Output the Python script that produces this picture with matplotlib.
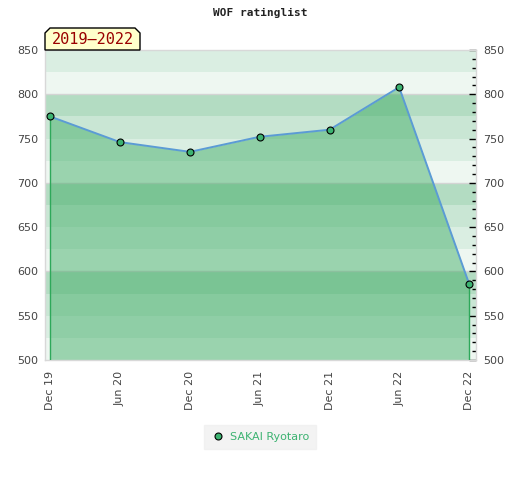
import matplotlib

matplotlib.use("Agg")
import matplotlib.dates as mdates
import matplotlib.pyplot as plt
import numpy as np
import pandas as pd
from matplotlib.patches import Polygon

TITLE = "WOF ratinglist"
PERIOD = "2019\u20132022"
PLAYER = "SAKAI Ryotaro"

dates = pd.to_datetime(["2019-12-01", "2020-06-01", "2020-12-01", "2021-06-01",
                        "2021-12-01", "2022-06-01", "2022-12-01"])
tick_labels = ["Dec 19", "Jun 20", "Dec 20", "Jun 21", "Dec 21", "Jun 22", "Dec 22"]
ratings = [775, 746, 735, 752, 760, 808, 586]

y_min, y_max = 500, 850
band_shades = ["#eef7f1", "#daeee2", "#c9e6d4", "#b3dcc2"]  # bottom -> top within each 100

fig = plt.figure(figsize=(5.2, 4.8), dpi=100)
ax = fig.add_axes([45 / 520, 1 - 360 / 480, 431 / 520, 310 / 480])

# background bands
for lo in range(y_min, y_max + 100, 25):
    ax.axhspan(lo, lo + 25, color=band_shades[(lo // 25) % 4], lw=0, zorder=0)
for y in range(y_min + 100, y_max, 100):
    ax.axhline(y, color="#d4d4d4", lw=1, zorder=1)

x = mdates.date2num(dates)
ax.fill_between(x, ratings, y_min, color="#37a95f", alpha=0.46, lw=0, zorder=2)
ax.vlines([x[0], x[-1]], y_min, [ratings[0], ratings[-1]], color="#2ea85a", lw=1, zorder=3)
ax.plot(x, ratings, color="#5b9bd5", lw=1.4, zorder=4)
ax.plot(x, ratings, "o", color="#3cb371", mec="black", mew=0.8, ms=5, zorder=5,
        label=PLAYER, clip_on=False)

ax.set_xlim(x[0] - 13, x[-1] + 18)
ax.set_ylim(y_min, y_max)
ax.set_xticks(x)
ax.set_xticklabels(tick_labels, rotation=90, fontsize=8, color="#444444")
ax.set_yticks(np.arange(y_min, y_max + 1, 50))
ax.tick_params(axis="y", which="both", left=False, right=True, labelleft=True,
               labelright=True, direction="in", labelsize=8, labelcolor="#444444",
               color="black", pad=5)
ax.tick_params(axis="y", which="major", length=5, width=1)
ax.set_yticks(np.arange(y_min, y_max + 1, 10), minor=True)
ax.tick_params(axis="y", which="minor", length=3, width=1)
ax.tick_params(axis="x", length=0, pad=8)

for side in ["top", "bottom", "left", "right"]:
    ax.spines[side].set_color("#d8d8d8")
    ax.spines[side].set_linewidth(1)

fig.text(0.5, 1 - 13 / 480, TITLE, ha="center", va="center", fontsize=8,
         fontweight="bold", family="DejaVu Sans Mono", color="#222222")

# period label box with clipped top corners
l, r, b, t, c = 45, 140, 50, 28, 5
pts = [(l, b), (l, t + c), (l + c, t), (r - c, t), (r, t + c), (r, b)]
pts = [(px / 520, 1 - py / 480) for px, py in pts]
fig.patches.append(Polygon(pts, closed=True, transform=fig.transFigure,
                           facecolor="#ffffcc", edgecolor="black", lw=1, zorder=10))
fig.text((l + r) / 2 / 520, 1 - 40 / 480, PERIOD, ha="center", va="center",
         fontsize=11, family="DejaVu Sans Mono", color="#990000", zorder=11)

leg = fig.legend(loc="center", bbox_to_anchor=(260 / 520, 1 - 437 / 480), frameon=True,
                 fontsize=8, handletextpad=0.5, handlelength=1.3, borderpad=0.6,
                 fancybox=False)
leg.get_frame().set_facecolor("#f0f0f0")
leg.get_frame().set_edgecolor("#f0f0f0")
for txt in leg.get_texts():
    txt.set_color("#3cb371")

fig.savefig("out.png", dpi=100)
